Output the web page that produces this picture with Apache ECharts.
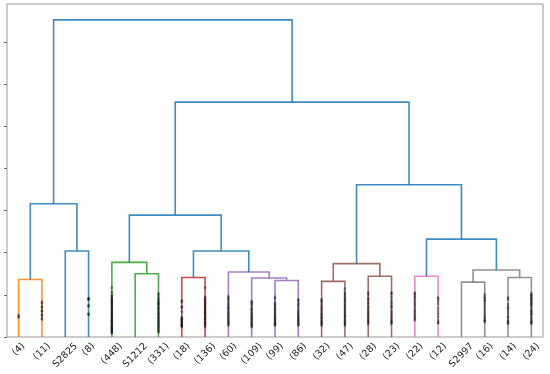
<!DOCTYPE html>
<html><head><meta charset="utf-8">
<script src="https://cdn.jsdelivr.net/npm/echarts@6/dist/echarts.min.js"></script>
<style>html,body{margin:0;padding:0;background:#fff}#c{width:550px;height:374px}</style>
</head><body><div id="c"></div>
<script>
// Leaf labels (truncated dendrogram, scipy style)
const leafLabels = ['(4)','(11)','S2825','(8)','(448)','S1212','(331)','(18)','(136)','(60)','(109)','(99)','(86)','(32)','(47)','(28)','(23)','(22)','(12)','S2997','(16)','(14)','(24)'];
// merges: [left node, right node, height, colour index]; nodes 0..22 are leaves, 23.. merges in order
const merges = [
  [0, 1, 1.365, 1],
  [2, 3, 2.04, 0],
  [23, 24, 3.16, 0],
  [5, 6, 1.50, 2],
  [4, 26, 1.77, 2],
  [7, 8, 1.41, 3],
  [11, 12, 1.34, 4],
  [10, 29, 1.40, 4],
  [9, 30, 1.54, 4],
  [28, 31, 2.04, 0],
  [27, 32, 2.89, 0],
  [13, 14, 1.32, 5],
  [15, 16, 1.44, 5],
  [34, 35, 1.74, 5],
  [17, 18, 1.44, 6],
  [19, 20, 1.30, 7],
  [21, 22, 1.41, 7],
  [38, 39, 1.59, 7],
  [37, 40, 2.32, 0],
  [36, 41, 3.61, 0],
  [33, 42, 5.57, 0],
  [25, 43, 7.52, 0]
];
const linkColors = ['#1f77b4','#ff7f0e','#2ca02c','#d62728','#9467bd','#8c564b','#e377c2','#7f7f7f'];
// contraction marks (heights) per leaf
const leafMarks = [
  [0.46, 0.49, 0.52],
  [0.42, 0.45, 0.51, 0.54, 0.61, 0.63, 0.70, 0.73, 0.80, 0.83],
  [],
  [0.53, 0.55, 0.73, 0.75, 0.89, 0.90, 0.92],
  [1.17, 1.06, 0.99, 0.97, 0.93, 0.91, 0.88, 0.86, 0.84, 0.81, 0.79, 0.77, 0.74, 0.72, 0.69, 0.67, 0.64, 0.62, 0.59, 0.57, 0.55, 0.52, 0.50, 0.47, 0.45, 0.43, 0.40, 0.38, 0.36, 0.34, 0.31, 0.29, 0.27, 0.25, 0.23, 0.21, 0.19, 0.17, 0.15, 0.13, 0.11, 0.09],
  [],
  [1.03, 0.99, 0.93, 0.90, 0.86, 0.83, 0.80, 0.78, 0.75, 0.71, 0.68, 0.66, 0.62, 0.59, 0.56, 0.54, 0.51, 0.48, 0.45, 0.43, 0.40, 0.37, 0.34, 0.31, 0.29, 0.26, 0.23, 0.20, 0.17, 0.14, 0.12],
  [0.86, 0.83, 0.72, 0.70, 0.60, 0.47, 0.44, 0.40, 0.37, 0.33, 0.31, 0.28, 0.26, 0.24, 0.29, 0.35, 0.42],
  [1.17, 0.95, 0.92, 0.88, 0.86, 0.83, 0.80, 0.77, 0.74, 0.71, 0.69, 0.66, 0.63, 0.60, 0.57, 0.55, 0.52, 0.49, 0.46, 0.44, 0.41, 0.38, 0.35, 0.33, 0.30, 0.27, 0.24],
  [0.97, 0.93, 0.90, 0.85, 0.80, 0.76, 0.72, 0.69, 0.66, 0.62, 0.58, 0.55, 0.52, 0.49, 0.46, 0.43, 0.40, 0.37, 0.34, 0.31, 0.28],
  [0.85, 0.82, 0.79, 0.75, 0.70, 0.66, 0.63, 0.59, 0.56, 0.53, 0.50, 0.47, 0.44, 0.41, 0.38, 0.35, 0.32, 0.29, 0.26, 0.24],
  [0.95, 0.91, 0.82, 0.78, 0.75, 0.71, 0.67, 0.64, 0.60, 0.57, 0.53, 0.50, 0.47, 0.44, 0.41, 0.38, 0.35, 0.32, 0.30, 0.28],
  [0.89, 0.86, 0.80, 0.76, 0.72, 0.66, 0.62, 0.58, 0.55, 0.51, 0.48, 0.45, 0.42, 0.39, 0.36, 0.33, 0.30, 0.28],
  [0.89, 0.86, 0.82, 0.76, 0.71, 0.67, 0.63, 0.58, 0.54, 0.51, 0.47, 0.44, 0.40, 0.37, 0.34, 0.31, 0.28],
  [1.14, 1.05, 1.01, 0.96, 0.92, 0.88, 0.84, 0.79, 0.75, 0.71, 0.67, 0.63, 0.59, 0.55, 0.51, 0.48, 0.44, 0.40, 0.37, 0.34, 0.31, 0.28],
  [1.05, 1.01, 0.92, 0.88, 0.82, 0.78, 0.72, 0.68, 0.63, 0.58, 0.54, 0.50, 0.46, 0.42, 0.38, 0.35, 0.31],
  [1.05, 1.02, 0.94, 0.86, 0.80, 0.74, 0.70, 0.62, 0.57, 0.52, 0.47, 0.42, 0.38, 0.35, 0.32],
  [1.05, 1.02, 0.98, 0.94, 0.90, 0.85, 0.80, 0.76, 0.71, 0.66, 0.62, 0.58, 0.54, 0.50, 0.46, 0.43, 0.40],
  [0.93, 0.90, 0.85, 0.69, 0.62, 0.55, 0.40, 0.35, 0.33, 0.48, 0.78],
  [],
  [1.01, 0.92, 0.84, 0.78, 0.72, 0.66, 0.60, 0.54, 0.49, 0.45, 0.41, 0.38, 0.36, 0.88, 0.95],
  [0.93, 0.89, 0.72, 0.68, 0.62, 0.56, 0.50, 0.46, 0.40, 0.36, 0.32, 0.34, 0.78],
  [1.03, 0.98, 0.92, 0.86, 0.80, 0.74, 0.70, 0.64, 0.58, 0.53, 0.48, 0.44, 0.40, 0.36, 0.34, 0.32, 0.55, 0.62, 0.77, 0.83, 0.89, 0.95, 1.00]
];
const yTickValues = [0, 1, 2, 3, 4, 5, 6, 7];

// scipy-style dendrogram coordinates: leaves at 5, 15, 25, ...
const nLeaves = leafLabels.length;
const nodeX = [], nodeH = [];
for (let i = 0; i < nLeaves; i++) { nodeX.push(5 + 10 * i); nodeH.push(0); }
const linkData = [];
merges.forEach(m => {
  const [l, r, h, c] = m;
  linkData.push([nodeX[l], nodeX[r], nodeH[l], nodeH[r], h, c]);
  nodeX.push((nodeX[l] + nodeX[r]) / 2);
  nodeH.push(h);
});
const maxH = Math.max(...merges.map(m => m[2]));
const markData = [];
leafMarks.forEach((arr, i) => arr.forEach(h => markData.push([nodeX[i], h])));
const labelData = leafLabels.map((t, i) => [nodeX[i], 0, i]);

const FONT_SIZE = 9.5;
const FONT = FONT_SIZE + 'px "DejaVu Sans"';
const mctx = document.createElement('canvas').getContext('2d');
mctx.font = FONT;

const chart = echarts.init(document.getElementById('c'), null, {renderer: 'canvas'});
chart.setOption({
  animation: false,
  grid: {left: 7, right: 7, top: 4, bottom: 37, show: true, borderColor: '#9a9a9a', borderWidth: 1, containLabel: false},
  xAxis: {type: 'value', min: 0, max: 10 * nLeaves, show: false},
  yAxis: {type: 'value', min: 0, max: maxH * 1.05,
    axisLine: {show: false}, splitLine: {show: false}, axisLabel: {show: false},
    axisTick: {show: true, inside: false, length: 3, customValues: yTickValues, lineStyle: {color: '#666', width: 1}}
  },
  series: [
    {
      type: 'custom', name: 'links', silent: true, z: 2,
      encode: {x: [0, 1], y: [2, 3, 4]},
      data: linkData,
      renderItem: function (params, api) {
        const x1 = api.value(0), x2 = api.value(1), y1 = api.value(2), y2 = api.value(3), h = api.value(4);
        const c = linkColors[api.value(5)];
        const pts = [api.coord([x1, y1]), api.coord([x1, h]), api.coord([x2, h]), api.coord([x2, y2])];
        return {type: 'polyline', shape: {points: pts}, style: {stroke: c, lineWidth: 1.6, fill: null, opacity: 0.85}};
      }
    },
    {
      type: 'scatter', name: 'contracted', silent: true, z: 3,
      symbol: 'circle', symbolSize: [2.6, 3.4],
      itemStyle: {color: 'rgba(0,0,0,0.5)'},
      data: markData
    },
    {
      type: 'custom', name: 'leafLabels', silent: true, z: 4, clip: false,
      encode: {x: 0, y: 1},
      data: labelData,
      renderItem: function (params, api) {
        const txt = leafLabels[api.value(2)];
        const p = api.coord([api.value(0), 0]);
        const L = mctx.measureText(txt).width;
        const H = FONT_SIZE * 1.1;
        const pad = 4;
        const off = (L + H) / (2 * Math.SQRT2);
        return {type: 'text', x: p[0], y: p[1] + pad + off, rotation: Math.PI / 4,
          style: {text: txt, font: FONT, fill: '#222', align: 'center', verticalAlign: 'middle', textAlign: 'center', textVerticalAlign: 'middle'}};
      }
    }
  ]
});
</script>
</body></html>
